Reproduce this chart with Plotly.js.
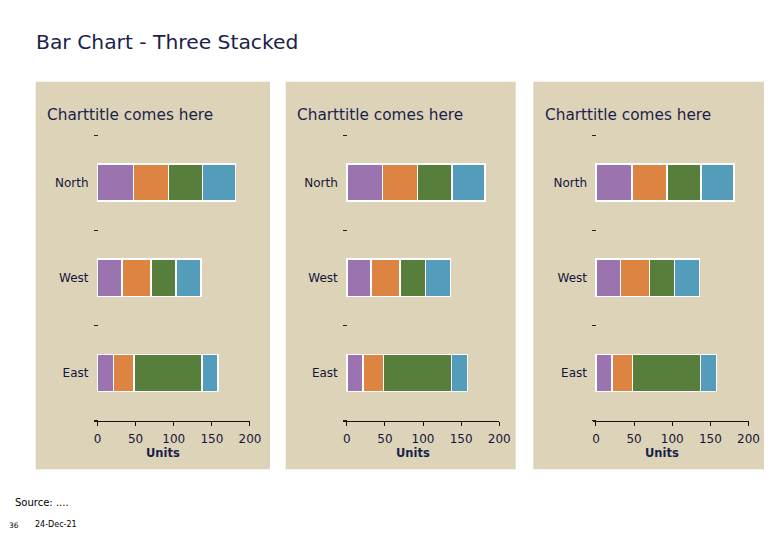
<!DOCTYPE html>
<html><head><meta charset="utf-8">
<script src="https://cdn.plot.ly/plotly-3.0.1.min.js"></script>
<style>body{margin:0;background:#fff}</style>
</head><body><div id="chart" style="width:780px;height:540px"></div>
<script>
// ---- data ----
const regions = ['North', 'West', 'East'];
const seriesNames = ['Series 1', 'Series 2', 'Series 3', 'Series 4'];
const series1 = [47, 32, 21];
const series2 = [46, 38, 27];
const series3 = [45, 33, 89];
const series4 = [43, 33, 21];
const xTickVals = [0, 50, 100, 150, 200];
const panelTitles = ['Charttitle comes here', 'Charttitle comes here', 'Charttitle comes here'];
const axisTitle = 'Units';
const mainTitle = 'Bar Chart - Three Stacked';
const sourceText = 'Source: ....';
const pageNumber = '36';
const dateText = '24-Dec-21';

// ---- styles ----
const W = 780, H = 540;
const colors = ['#9A73AF', '#DD8443', '#587E3C', '#539DBA'];
const bg = '#DCD3B9';
const navy = '#1C1F4A';
const textDark = '#16163A';
const font = 'DejaVu Sans, Verdana, sans-serif';
const zeroPx = [97.5, 346.8, 596.0];
const pxPerUnit = 0.7625;
const panelsPx = [[35.7, 270], [285.7, 515.7], [533.3, 764]];
const panelTop = 81.7, panelBottom = 469.3;
const plotTop = 135, plotBottom = 420.5;
const px = v => v / W;
const py = v => 1 - v / H;

const allSeries = [series1, series2, series3, series4];
const traces = [];
const layout = {
  width: W, height: H,
  margin: {l: 0, r: 0, t: 0, b: 0},
  paper_bgcolor: '#fff', plot_bgcolor: 'rgba(0,0,0,0)',
  barmode: 'stack', bargap: 0.61,
  showlegend: false,
  font: {family: font, color: textDark, size: 12},
  title: {text: mainTitle, x: px(36), xanchor: 'left', xref: 'paper',
          y: py(42), yanchor: 'middle', yref: 'paper',
          font: {family: font, size: 20.3, color: navy}},
  shapes: [], annotations: []
};

for (let p = 0; p < 3; p++) {
  const suf = p === 0 ? '' : String(p + 1);
  allSeries.forEach((vals, s) => {
    traces.push({
      type: 'bar', orientation: 'h', name: seriesNames[s],
      x: vals, y: regions,
      xaxis: 'x' + suf, yaxis: 'y' + suf,
      marker: {color: colors[s], line: {color: '#fff', width: 1.5}},
      hoverinfo: 'x+y'
    });
  });
  const x0 = zeroPx[p];
  const rangeMin = -4.5;
  const domL = x0 + rangeMin * pxPerUnit;
  const domR = x0 + 200 * pxPerUnit;
  layout['xaxis' + suf] = {
    domain: [px(domL), px(domR)], range: [rangeMin, 200], anchor: 'y' + suf,
    tickvals: xTickVals, showgrid: false, zeroline: false,
    showline: true, linecolor: '#111', linewidth: 1,
    ticks: 'outside', ticklen: 4, tickcolor: '#111', tickwidth: 1,
    ticklabelstandoff: 3,
    tickfont: {family: font, size: 12, color: textDark}, fixedrange: true
  };
  layout['yaxis' + suf] = {
    domain: [py(plotBottom), py(plotTop)], anchor: 'free', position: px(x0),
    type: 'category', categoryorder: 'array', categoryarray: regions.slice().reverse(),
    showgrid: false, zeroline: false, showline: false,
    ticks: 'outside', tickson: 'boundaries', ticklen: 4, tickcolor: '#222', tickwidth: 1,
    ticklabelstandoff: 9,
    tickfont: {family: font, size: 12, color: textDark}, fixedrange: true
  };
  layout.shapes.push({
    type: 'rect', xref: 'paper', yref: 'paper', layer: 'below',
    x0: px(panelsPx[p][0]), x1: px(panelsPx[p][1]),
    y0: py(panelBottom), y1: py(panelTop),
    fillcolor: bg, line: {width: 0}
  });
  layout.annotations.push({
    text: panelTitles[p], xref: 'paper', yref: 'paper',
    x: px(panelsPx[p][0] + 9.5), xanchor: 'left', y: py(115), yanchor: 'middle',
    showarrow: false, font: {family: font, size: 15.3, color: navy}
  });
  layout.annotations.push({
    text: '<b>' + axisTitle + '</b>', xref: 'paper', yref: 'paper',
    x: px(x0 + 65.8), xanchor: 'center', y: py(453), yanchor: 'middle',
    showarrow: false, font: {family: font, size: 11.5, color: navy}
  });
}
layout.annotations.push({
  text: sourceText, xref: 'paper', yref: 'paper', x: px(12.5), xanchor: 'left',
  y: py(502), yanchor: 'middle', showarrow: false, font: {family: font, size: 10, color: '#000'}
});
layout.annotations.push({
  text: pageNumber, xref: 'paper', yref: 'paper', x: px(7), xanchor: 'left',
  y: py(525), yanchor: 'middle', showarrow: false, font: {family: font, size: 7.5, color: '#000'}
});
layout.annotations.push({
  text: dateText, xref: 'paper', yref: 'paper', x: px(33), xanchor: 'left',
  y: py(524), yanchor: 'middle', showarrow: false, font: {family: font, size: 8, color: '#000'}
});

Plotly.newPlot('chart', traces, layout, {displayModeBar: false, staticPlot: true});
</script></body></html>
